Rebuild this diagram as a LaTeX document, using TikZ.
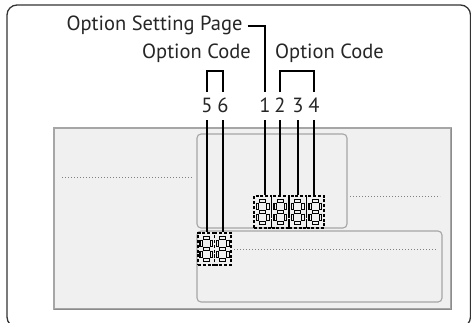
\documentclass[tikz,border=0pt]{standalone}
\usepackage{fontspec}
\setmainfont{PT Sans}
\definecolor{panelgray}{HTML}{F0F0F0}
\definecolor{edgegray}{HTML}{A6A6A6}
\definecolor{shadowgray}{HTML}{8C8C8C}
\begin{document}
\begin{tikzpicture}[x=1pt,y=-1pt,
  conn/.style={line width=1.3pt,black},
  panel/.style={draw=edgegray, fill=panelgray, line width=1.1pt},
  innerbox/.style={draw=edgegray, fill=panelgray, line width=1.1pt, rounded corners=4pt},
  dotline/.style={gray, line width=0.9pt, dash pattern=on 0.9pt off 2.1pt},
  dbox/.style={draw=black, line width=1.2pt, dash pattern=on 3pt off 1.8pt, minimum width=17.5pt, minimum height=32pt, inner sep=0pt},
  lbl/.style={font=\fontsize{20.5}{22}\selectfont, inner sep=0pt, text=black!85},
  seg8/.pic={
    \foreach \xa/\ya/\xb/\yb in {-3.4/-11/3.4/-11, -3.4/0/3.4/0, -3.4/11/3.4/11,
        -5.2/-9.4/-5.2/-1.6, 5.2/-9.4/5.2/-1.6, -5.2/1.6/-5.2/9.4, 5.2/1.6/5.2/9.4}
      {\draw[line width=3.4pt, black] (\xa,\ya) -- (\xb,\yb);}
    \foreach \xa/\ya/\xb/\yb in {-3.4/-11/3.4/-11, -3.4/0/3.4/0, -3.4/11/3.4/11,
        -5.2/-9.4/-5.2/-1.6, 5.2/-9.4/5.2/-1.6, -5.2/1.6/-5.2/9.4, 5.2/1.6/5.2/9.4}
      {\draw[line width=1.1pt, panelgray, shorten >=1.1pt, shorten <=1.1pt] (\xa,\ya) -- (\xb,\yb);}
  }]
\useasboundingbox (0,0) rectangle (471,322);
% outer frame
\draw[line width=1.3pt, draw=black!80, rounded corners=10pt] (7,5) rectangle (470.5,327);
% panel
\draw[panel] (54,128) rectangle (451,309);
\draw[shadowgray, line width=1.6pt] (54,309.3) -- (451.3,309.3) -- (451.3,128);
\draw[innerbox] (197,134) rectangle (347,228);
\draw[innerbox] (197,231) rectangle (442,302);
% dotted lines
\draw[dotline] (62,177) -- (192,177);
\draw[dotline] (350,196) -- (440,196);
\draw[dotline] (234,249) -- (437,249);
% labels
\node[lbl] (osp) at (154.5,25) {Option Setting Page};
\node[lbl] (ocl) at (196.5,53) {Option Code};
\node[lbl] (ocr) at (329.5,53) {Option Code};
\node[lbl] (n5) at (207,105.5) {5};
\node[lbl] (n6) at (223,105.5) {6};
\node[lbl] (n1) at (265,105.5) {1};
\node[lbl] (n2) at (280,105.5) {2};
\node[lbl] (n3) at (298,105.5) {3};
\node[lbl] (n4) at (314,105.5) {4};
% digit boxes
\node[dbox] (d1) at (262.75,212) {};
\node[dbox] (d2) at (280.25,212) {};
\node[dbox] (d3) at (297.75,212) {};
\node[dbox] (d4) at (315.25,212) {};
\node[dbox, minimum width=16.5pt] (d5) at (206.25,249) {};
\node[dbox, minimum width=16.5pt] (d6) at (222.75,249) {};
\foreach \d in {d1,d2,d3,d4,d5,d6} {\pic at (\d.center) {seg8};}
% connectors
\foreach \n/\d in {n5/d5,n6/d6,n1/d1,n2/d2,n3/d3,n4/d4}
  {\draw[conn] ([yshift=-7pt]\n.south) -- (\n.south |- \d.north);}
\draw[conn] ([yshift=6pt]n5.north) -- ++(0,-21) -| ([yshift=6pt]n6.north);
\draw[conn] ([yshift=6pt]n2.north) -- ++(0,-21) -| ([yshift=6pt]n4.north);
\draw[conn] ([xshift=5pt,yshift=-1pt]osp.east) -| ([yshift=6pt]n1.north);
\end{tikzpicture}
\end{document}
